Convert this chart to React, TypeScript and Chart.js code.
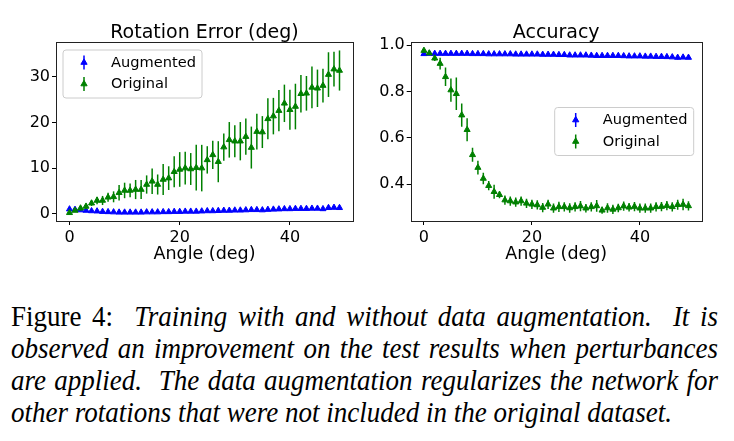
import React, { useEffect, useRef } from "react";
import { Chart, registerables } from "chart.js";

Chart.register(...registerables);

// ---------- data ----------
const angles = [
  0, 1, 2, 3, 4, 5, 6, 7, 8, 9, 10, 11, 12, 13, 14, 15, 16, 17, 18, 19, 20, 21, 22, 23, 24,
  25, 26, 27, 28, 29, 30, 31, 32, 33, 34, 35, 36, 37, 38, 39, 40, 41, 42, 43, 44, 45, 46, 47, 48, 49,
];

const rotAugmented = [
  1.0, 0.9, 0.8, 0.7, 0.6, 0.55, 0.45, 0.4, 0.35, 0.3, 0.3, 0.3, 0.3, 0.3, 0.35, 0.35, 0.35, 0.4, 0.4, 0.45,
  0.45, 0.5, 0.5, 0.5, 0.55, 0.6, 0.6, 0.65, 0.7, 0.7, 0.75, 0.75, 0.8, 0.85, 0.85, 0.8, 0.9, 0.95, 1.0, 1.05,
  1.05, 1.1, 1.1, 1.1, 1.15, 1.15, 1.05, 1.3, 1.35, 1.3,
];
const rotAugmentedErr = [
  0.4, 0.35, 0.3, 0.3, 0.25, 0.25, 0.2, 0.2, 0.2, 0.2, 0.2, 0.2, 0.2, 0.2, 0.2, 0.2, 0.2, 0.2, 0.2, 0.2,
  0.2, 0.2, 0.2, 0.2, 0.2, 0.25, 0.25, 0.25, 0.25, 0.25, 0.25, 0.25, 0.3, 0.3, 0.3, 0.3, 0.3, 0.3, 0.3, 0.35,
  0.35, 0.35, 0.35, 0.35, 0.35, 0.35, 0.35, 0.4, 0.4, 0.45,
];
const rotOriginal = [
  0.2, 0.7, 1.2, 1.6, 2.3, 2.9, 2.9, 3.6, 3.7, 4.6, 5.1, 5.1, 5.3, 5.3, 6.4, 7.1, 6.4, 7.5, 7.8, 9.2,
  9.7, 10.0, 9.8, 10.1, 10.0, 11.8, 12.9, 11.4, 14.6, 16.2, 15.9, 15.9, 16.9, 14.5, 18.0, 17.9, 20.8, 21.4, 22.6, 24.2,
  22.8, 23.5, 26.3, 26.4, 27.7, 27.5, 28.1, 30.5, 31.7, 31.4,
];
const rotOriginalErr = [
  0.1, 0.3, 0.5, 0.6, 0.6, 0.8, 1.0, 1.0, 1.2, 1.7, 1.7, 1.5, 2.1, 2.1, 2.0, 2.8, 2.2, 3.4, 2.6, 3.4,
  3.8, 3.6, 3.5, 5.0, 5.1, 3.0, 3.1, 4.5, 3.0, 3.9, 3.5, 4.2, 4.0, 4.6, 3.9, 3.5, 4.5, 4.0, 4.5, 4.1,
  4.4, 5.0, 4.1, 3.8, 4.6, 4.1, 3.7, 4.9, 3.8, 4.4,
];

const accAugmented = [
  0.962, 0.963, 0.963, 0.963, 0.963, 0.963, 0.963, 0.963, 0.963, 0.962, 0.962, 0.962, 0.961, 0.961, 0.961, 0.961,
  0.961, 0.960, 0.960, 0.960, 0.960, 0.960, 0.959, 0.959, 0.959, 0.958, 0.958, 0.956, 0.956, 0.956, 0.956, 0.955,
  0.954, 0.954, 0.954, 0.954, 0.954, 0.953, 0.952, 0.952, 0.952, 0.951, 0.951, 0.950, 0.950, 0.949, 0.948, 0.946,
  0.947, 0.946,
];
const accAugmentedErr = [
  0.006, 0.004, 0.004, 0.004, 0.004, 0.004, 0.004, 0.004, 0.004, 0.004, 0.004, 0.004, 0.004, 0.004, 0.004, 0.004,
  0.004, 0.004, 0.004, 0.004, 0.004, 0.004, 0.004, 0.004, 0.004, 0.004, 0.004, 0.004, 0.004, 0.004, 0.004, 0.004,
  0.004, 0.004, 0.004, 0.004, 0.004, 0.004, 0.004, 0.004, 0.004, 0.004, 0.004, 0.004, 0.004, 0.004, 0.004, 0.008,
  0.005, 0.005,
];
const accOriginal = [
  0.976, 0.965, 0.943, 0.92, 0.863, 0.806, 0.79, 0.698, 0.635, 0.527, 0.472, 0.425, 0.394, 0.368, 0.355, 0.332,
  0.328, 0.323, 0.328, 0.318, 0.314, 0.311, 0.3, 0.314, 0.297, 0.303, 0.303, 0.298, 0.303, 0.306, 0.297, 0.303,
  0.307, 0.288, 0.298, 0.292, 0.298, 0.306, 0.301, 0.304, 0.297, 0.297, 0.297, 0.303, 0.304, 0.308, 0.303, 0.312,
  0.313, 0.307,
];
const accOriginalErr = [
  0.008, 0.005, 0.012, 0.025, 0.04, 0.05, 0.07, 0.05, 0.05, 0.03, 0.03, 0.025, 0.02, 0.03, 0.015, 0.02,
  0.02, 0.02, 0.02, 0.02, 0.02, 0.02, 0.02, 0.02, 0.02, 0.022, 0.02, 0.02, 0.02, 0.022, 0.018, 0.02,
  0.025, 0.015, 0.02, 0.02, 0.018, 0.02, 0.018, 0.02, 0.02, 0.02, 0.02, 0.02, 0.02, 0.02, 0.02, 0.022,
  0.025, 0.02,
];

const xTicks = [0, 20, 40];
const rotYTicks = [0, 10, 20, 30];
const accYTicks = [0.4, 0.6, 0.8, 1.0];

const seriesNames = ["Augmented", "Original"];
const seriesColors = ["#0000ff", "#008000"];

const captionLines = [
  "Training with and without data augmentation.  It is",
  "observed an improvement on the test results when perturbances",
  "are applied.  The data augmentation regularizes the network for",
  "other rotations that were not included in the original dataset.",
];

// ---------- plugins ----------
const FONT = '"DejaVu Sans", Verdana, sans-serif';

function drawTri(ctx: CanvasRenderingContext2D, x: number, y: number, r: number, color: string) {
  ctx.save();
  ctx.fillStyle = color;
  ctx.strokeStyle = color;
  ctx.lineWidth = 1;
  ctx.beginPath();
  ctx.moveTo(x, y - r);
  ctx.lineTo(x + r * 0.866, y + r * 0.5);
  ctx.lineTo(x - r * 0.866, y + r * 0.5);
  ctx.closePath();
  ctx.fill();
  ctx.stroke();
  ctx.restore();
}

const errorBarPlugin = {
  id: "errorBars",
  beforeDatasetDraw(chart: any, args: any) {
    const ds = chart.data.datasets[args.index];
    const errs: number[] | undefined = ds.errors;
    if (!errs) return;
    const { ctx } = chart;
    const xs = chart.scales.x;
    const ys = chart.scales.y;
    ctx.save();
    ctx.beginPath();
    ctx.rect(chart.chartArea.left, chart.chartArea.top, chart.chartArea.width, chart.chartArea.height);
    ctx.clip();
    ctx.strokeStyle = ds.borderColor;
    ctx.lineWidth = 1.5;
    ds.data.forEach((p: any, j: number) => {
      const x = xs.getPixelForValue(p.x);
      ctx.beginPath();
      ctx.moveTo(x, ys.getPixelForValue(p.y - errs[j]));
      ctx.lineTo(x, ys.getPixelForValue(p.y + errs[j]));
      ctx.stroke();
    });
    ctx.restore();
  },
};

const framePlugin = {
  id: "frame",
  afterDraw(chart: any, _args: any, opts: any) {
    const { ctx, chartArea: a } = chart;
    ctx.save();
    ctx.strokeStyle = "#222";
    ctx.lineWidth = 1;
    ctx.strokeRect(Math.round(a.left) + 0.5, Math.round(a.top) + 0.5, Math.round(a.width), Math.round(a.height));
    // panel title, centred over the plotting area
    ctx.fillStyle = "#000";
    ctx.font = `19px ${FONT}`;
    ctx.textAlign = "center";
    ctx.textBaseline = "alphabetic";
    ctx.fillText(opts.text, (a.left + a.right) / 2, a.top - 4.5);
    ctx.restore();
  },
};

const legendPlugin = {
  id: "boxLegend",
  afterDraw(chart: any, _args: any, opts: any) {
    const { ctx, chartArea: a } = chart;
    const w = 139;
    const h = 48;
    let bx: number;
    let by: number;
    if (opts.place === "topleft") {
      bx = a.left + 7;
      by = a.top + 8;
    } else {
      bx = a.right - 8 - w;
      by = (a.top + a.bottom) / 2 - h / 2;
    }
    ctx.save();
    ctx.fillStyle = "rgba(255,255,255,0.85)";
    ctx.strokeStyle = "#cccccc";
    ctx.lineWidth = 1;
    const r = 3;
    ctx.beginPath();
    ctx.moveTo(bx + r, by);
    ctx.lineTo(bx + w - r, by);
    ctx.arcTo(bx + w, by, bx + w, by + r, r);
    ctx.lineTo(bx + w, by + h - r);
    ctx.arcTo(bx + w, by + h, bx + w - r, by + h, r);
    ctx.lineTo(bx + r, by + h);
    ctx.arcTo(bx, by + h, bx, by + h - r, r);
    ctx.lineTo(bx, by + r);
    ctx.arcTo(bx, by, bx + r, by, r);
    ctx.closePath();
    ctx.fill();
    ctx.stroke();
    const rows = [by + 12.5, by + 34];
    chart.data.datasets.forEach((ds: any, i: number) => {
      const y = rows[i];
      const mx = bx + 21;
      ctx.strokeStyle = ds.borderColor;
      ctx.lineWidth = 1.5;
      ctx.beginPath();
      ctx.moveTo(mx, y - 7);
      ctx.lineTo(mx, y + 7);
      ctx.stroke();
      drawTri(ctx, mx, y, 3.6, ds.borderColor);
      ctx.fillStyle = "#000";
      ctx.font = `14.6px ${FONT}`;
      ctx.textBaseline = "middle";
      ctx.textAlign = "left";
      ctx.fillText(ds.label, bx + 48, y + 0.5);
    });
    ctx.restore();
  },
};

type PanelProps = {
  title: string;
  aug: number[];
  augErr: number[];
  orig: number[];
  origErr: number[];
  yMin: number;
  yMax: number;
  yTicks: number[];
  yWidth: number;
  padRight: number;
  legendPlace: string;
  tickFormat: (v: number) => string;
};

function Panel(props: PanelProps) {
  const ref = useRef<HTMLCanvasElement | null>(null);
  useEffect(() => {
    if (!ref.current) return;
    const mk = (vals: number[]) => angles.map((a, i) => ({ x: a, y: vals[i] }));
    const chart = new Chart(ref.current, {
      type: "scatter",
      data: {
        datasets: [
          {
            label: seriesNames[0],
            data: mk(props.aug),
            errors: props.augErr,
            borderColor: seriesColors[0],
            backgroundColor: seriesColors[0],
            pointStyle: "triangle",
            pointRadius: 3.5,
            pointBorderWidth: 1,
            order: 2,
          } as any,
          {
            label: seriesNames[1],
            data: mk(props.orig),
            errors: props.origErr,
            borderColor: seriesColors[1],
            backgroundColor: seriesColors[1],
            pointStyle: "triangle",
            pointRadius: 3.5,
            pointBorderWidth: 1,
            order: 1,
          } as any,
        ],
      },
      options: {
        animation: false,
        responsive: false,
        events: [],
        layout: { autoPadding: false, padding: { left: 0, right: props.padRight, top: 42, bottom: 0 } },
        plugins: {
          legend: { display: false },
          tooltip: { enabled: false },
          title: { display: false },
          frame: { text: props.title },
          boxLegend: { place: props.legendPlace },
        } as any,
        scales: {
          x: {
            type: "linear",
            min: -2.45,
            max: 51.45,
            afterFit: (s: any) => {
              s.height = 49;
            },
            afterBuildTicks: (s: any) => {
              s.ticks = xTicks.map((v) => ({ value: v }));
            },
            ticks: {
              color: "#000",
              font: { family: FONT, size: 16 },
              padding: 3,
              maxRotation: 0,
              callback: (v: any) => String(v),
            },
            grid: {
              display: true,
              drawOnChartArea: false,
              drawTicks: true,
              tickLength: 4,
              color: "#000",
            },
            border: { display: false },
            title: {
              display: true,
              text: "Angle (deg)",
              color: "#000",
              font: { family: FONT, size: 17.5 },
              padding: { top: 0, bottom: 5 },
            },
          },
          y: {
            type: "linear",
            min: props.yMin,
            max: props.yMax,
            afterFit: (s: any) => {
              s.width = props.yWidth;
            },
            afterBuildTicks: (s: any) => {
              s.ticks = props.yTicks.map((v) => ({ value: v }));
            },
            ticks: {
              color: "#000",
              font: { family: FONT, size: 16 },
              padding: 2,
              callback: (v: any) => props.tickFormat(Number(v)),
            },
            grid: {
              display: true,
              drawOnChartArea: false,
              drawTicks: true,
              tickLength: 4,
              color: "#000",
            },
            border: { display: false },
          },
        },
      },
      plugins: [errorBarPlugin, framePlugin, legendPlugin],
    });
    return () => chart.destroy();
  }, []);
  return <canvas ref={ref} width={367} height={270} style={{ display: "block" }} />;
}

export default function App() {
  return (
    <div style={{ position: "absolute", left: 0, top: 0, width: 734, height: 441, background: "#fff", overflow: "hidden" }}>
      <div style={{ position: "absolute", left: 0, top: 0 }}>
        <Panel
          title="Rotation Error (deg)"
          aug={rotAugmented}
          augErr={rotAugmentedErr}
          orig={rotOriginal}
          origErr={rotOriginalErr}
          yMin={-1.6}
          yMax={37.65}
          yTicks={rotYTicks}
          yWidth={56}
          padRight={14}
          legendPlace="topleft"
          tickFormat={(v) => String(Math.round(v))}
        />
      </div>
      <div style={{ position: "absolute", left: 367, top: 0 }}>
        <Panel
          title="Accuracy"
          aug={accAugmented}
          augErr={accAugmentedErr}
          orig={accOriginal}
          origErr={accOriginalErr}
          yMin={0.242}
          yMax={1.013}
          yTicks={accYTicks}
          yWidth={43.7}
          padRight={32.3}
          legendPlace="right"
          tickFormat={(v) => v.toFixed(1)}
        />
      </div>
      <div
        style={{
          position: "absolute",
          left: 11,
          top: 301,
          width: 707,
          fontFamily: '"Liberation Serif", "Times New Roman", serif',
          fontSize: 27,
          lineHeight: "29.9px",
          color: "#000",
          transform: "scaleY(1.07)",
          transformOrigin: "0 0",
        }}
      >
        {captionLines.map((line, i) => (
          <div
            key={i}
            style={{
              textAlign: i < captionLines.length - 1 ? "justify" : "left",
              textAlignLast: i < captionLines.length - 1 ? "justify" : "auto",
              whiteSpace: "pre",
            }}
          >
            {i === 0 ? <span style={{ fontStyle: "normal" }}>{"Figure 4:  "}</span> : null}
            <span style={{ fontStyle: "italic" }}>{line}</span>
          </div>
        ))}
      </div>
    </div>
  );
}
